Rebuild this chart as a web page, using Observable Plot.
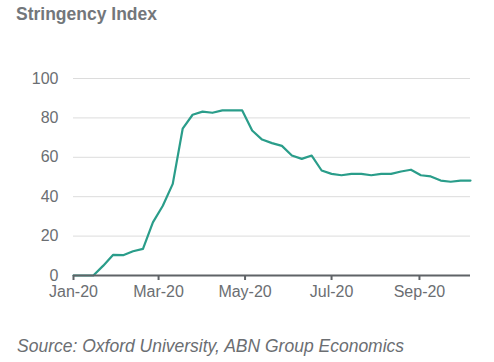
<!DOCTYPE html>
<html>
<head>
<meta charset="utf-8">
<script src="https://cdn.jsdelivr.net/npm/d3@7"></script>
<script src="https://cdn.jsdelivr.net/npm/@observablehq/plot@0.6"></script>
<style>
  html, body { margin: 0; padding: 0; background: #fff; }
  body { width: 494px; height: 362px; overflow: hidden; font-family: "Liberation Sans", Arial, sans-serif; }
  #title { height: 30px; line-height: 28px; padding-left: 16px; font-weight: bold; font-size: 17.5px; color: #73777b; }
  #chart svg { display: block; }
  #caption { position: absolute; left: 17px; top: 336px; font-style: italic; font-size: 17.5px; color: #6b6e72; white-space: nowrap; }
</style>
</head>
<body>
<div id="title">Stringency Index</div>
<div id="chart"></div>
<div id="caption">Source: Oxford University, ABN Group Economics</div>
<script>
const dates = [
  "2020-01-01","2020-01-08","2020-01-15","2020-01-22","2020-01-29",
  "2020-02-05","2020-02-12","2020-02-19","2020-02-26","2020-03-04",
  "2020-03-11","2020-03-18","2020-03-25","2020-04-01","2020-04-08",
  "2020-04-15","2020-04-22","2020-04-29","2020-05-06","2020-05-13",
  "2020-05-20","2020-05-27","2020-06-03","2020-06-10","2020-06-17",
  "2020-06-24","2020-07-01","2020-07-08","2020-07-15","2020-07-22",
  "2020-07-29","2020-08-05","2020-08-12","2020-08-19","2020-08-26",
  "2020-09-02","2020-09-09","2020-09-16","2020-09-23","2020-09-30",
  "2020-10-07"
];
const stringency = [
  0, 0, 0, 5, 10.5,
  10.3, 12.3, 13.5, 27, 35.4,
  46.5, 74.5, 81.6, 83.2, 82.6,
  83.8, 83.8, 83.8, 73.6, 69,
  67.2, 65.8, 60.9, 59.2, 60.9,
  53.3, 51.6, 50.9, 51.6, 51.6,
  50.9, 51.6, 51.6, 52.8, 53.7,
  50.9, 50.3, 48.2, 47.6, 48.2,
  48.2
];
const xTickDates = ["2020-01-01","2020-03-01","2020-05-01","2020-07-01","2020-09-01"];
const yTicks = [0, 20, 40, 60, 80, 100];

const parse = d3.utcParse("%Y-%m-%d");
const data = dates.map((d, i) => ({date: parse(d), value: stringency[i]}));
const xTicks = xTickDates.map(parse);
const fmt = d3.utcFormat("%b-%y");

const chart = Plot.plot({
  width: 494,
  height: 290,
  marginTop: 48,
  marginBottom: 45,
  marginLeft: 73,
  marginRight: 24,
  style: {fontFamily: "'Liberation Sans', Arial, sans-serif", background: "#fff"},
  x: {type: "utc", domain: [parse("2020-01-01"), parse("2020-10-07")]},
  y: {domain: [0, 100]},
  marks: [
    Plot.ruleY(yTicks.filter(d => d > 0), {stroke: "#dcdcdc", strokeWidth: 1}),
    Plot.axisY({ticks: yTicks, tickSize: 0, tickPadding: 15, fontSize: 16, fill: "#6b6e72", label: null}),
    Plot.lineY(data, {x: "date", y: "value", stroke: "#2a9d8a", strokeWidth: 2.2, curve: "linear"}),
    Plot.ruleY([0], {stroke: "#5f6367", strokeWidth: 2}),
    Plot.axisX({ticks: xTicks, tickFormat: fmt, tickSize: 5, tickPadding: 5, stroke: "#5f6367", strokeWidth: 2, fill: "#6b6e72", fontSize: 16, label: null})
  ]
});
document.getElementById("chart").appendChild(chart);
</script>
</body>
</html>
